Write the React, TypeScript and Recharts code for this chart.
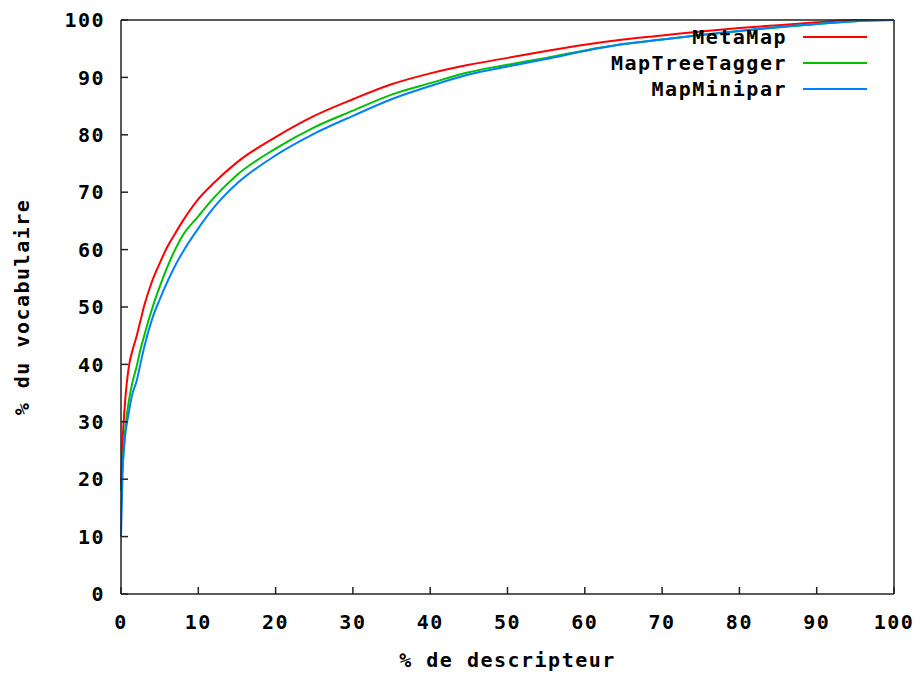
import React from 'react';
import { LineChart, Line, XAxis, YAxis, Legend, Label } from 'recharts';

// % de descripteur (x) shared by the three curves
const descripteurPct = [0, 0.2, 0.5, 1, 1.5, 2, 2.5, 3, 4, 5, 6, 7, 8, 10, 12, 15, 20, 25, 30, 35, 40, 45, 50, 55, 60, 65, 70, 75, 80, 85, 90, 95, 100];

// % du vocabulaire per tool
const metaMap = [19, 26.5, 33, 39.5, 42.5, 44.8, 47.5, 50.2, 54.4, 57.6, 60.5, 62.8, 65, 68.8, 71.6, 75.2, 79.6, 83.3, 86.2, 88.8, 90.7, 92.2, 93.4, 94.6, 95.7, 96.6, 97.3, 98.0, 98.6, 99.1, 99.6, 100, 100];
const mapTreeTagger = [18, 22, 28, 33.5, 37, 39.5, 42.5, 45, 49.6, 53.5, 57, 60, 62.5, 65.8, 69.0, 73.0, 77.6, 81.3, 84.2, 87.0, 89.0, 90.9, 92.2, 93.4, 94.7, 95.8, 96.6, 97.4, 98.1, 98.7, 99.3, 99.8, 100];
const mapMinipar = [10, 21, 27, 31.5, 35, 37, 40, 43, 47.8, 51.3, 54.4, 57.2, 59.6, 63.7, 67.3, 71.5, 76.4, 80.2, 83.3, 86.2, 88.5, 90.5, 91.9, 93.2, 94.6, 95.8, 96.6, 97.4, 98.1, 98.8, 99.3, 99.8, 100];

const seriesNames = ['MetaMap', 'MapTreeTagger', 'MapMinipar'];
const axisTicks = [0, 10, 20, 30, 40, 50, 60, 70, 80, 90, 100];

const data = descripteurPct.map((x, i) => ({
  x,
  metaMap: metaMap[i],
  mapTreeTagger: mapTreeTagger[i],
  mapMinipar: mapMinipar[i],
}));

const FONT = '"DejaVu Sans Mono", "Liberation Mono", monospace';
const FRAME = '#222';

const tickStyle = {
  fill: '#000',
  fontSize: 20,
  fontFamily: FONT,
  fontWeight: 'bold',
  letterSpacing: 1.5,
};

// gnuplot-like key: text right aligned, sample line on the right
const KeyContent = ({ payload }: any) => {
  const items = [...(payload || [])].sort(
    (a: any, b: any) => seriesNames.indexOf(a.value) - seriesNames.indexOf(b.value)
  );
  return (
    <div style={{ fontFamily: FONT, fontWeight: 'bold', fontSize: 20, letterSpacing: 1.5 }}>
      {items.map((entry: any) => (
        <div
          key={entry.value}
          style={{ display: 'flex', justifyContent: 'flex-end', alignItems: 'center', height: 26 }}
        >
          <span style={{ color: '#000', lineHeight: '26px' }}>{entry.value}</span>
          <svg width={64} height={4} style={{ marginLeft: 16 }}>
            <line x1={0} y1={2} x2={64} y2={2} stroke={entry.color} strokeWidth={2} />
          </svg>
        </div>
      ))}
    </div>
  );
};

const YTitle = ({ viewBox }: any) => {
  const cx = viewBox.x + 22;
  const cy = viewBox.y + viewBox.height / 2;
  return (
    <text
      x={cx}
      y={cy}
      transform={`rotate(-90 ${cx} ${cy})`}
      textAnchor="middle"
      dominantBaseline="central"
      fontFamily={FONT}
      fontWeight="bold"
      fontSize={20}
      letterSpacing={1.5}
      fill="#000"
    >
      % du vocabulaire
    </text>
  );
};

export default function App() {
  return (
    <div style={{ position: 'absolute', left: 0, top: 0, width: 922, height: 673, background: '#fff' }}>
      <LineChart width={922} height={673} data={data} margin={{ top: 0, right: 0, bottom: 0, left: 0 }}>
        <XAxis
          dataKey="x"
          type="number"
          domain={[0, 100]}
          ticks={axisTicks}
          interval={0}
          height={79}
          tickSize={-7}
          tickMargin={28}
          tick={tickStyle}
          axisLine={{ stroke: FRAME, strokeWidth: 1.5 }}
          tickLine={{ stroke: FRAME, strokeWidth: 1.5 }}
        >
          <Label
            value="% de descripteur"
            position="insideBottom"
            offset={6}
            style={{ fontFamily: FONT, fontWeight: 'bold', fontSize: 20, letterSpacing: 1.5, fill: '#000' }}
          />
        </XAxis>
        <XAxis
          xAxisId="top"
          orientation="top"
          type="number"
          domain={[0, 100]}
          allowDataOverflow
          ticks={axisTicks}
          interval={0}
          height={20}
          tickSize={-7}
          tick={false}
          axisLine={{ stroke: FRAME, strokeWidth: 1.5 }}
          tickLine={{ stroke: FRAME, strokeWidth: 1.5 }}
        />
        <YAxis
          type="number"
          domain={[0, 100]}
          ticks={axisTicks}
          interval={0}
          width={121}
          tickSize={-7}
          tickMargin={23}
          tick={tickStyle}
          axisLine={{ stroke: FRAME, strokeWidth: 1.5 }}
          tickLine={{ stroke: FRAME, strokeWidth: 1.5 }}
        >
          <Label content={<YTitle />} />
        </YAxis>
        <YAxis
          yAxisId="right"
          orientation="right"
          type="number"
          domain={[0, 100]}
          allowDataOverflow
          ticks={axisTicks}
          interval={0}
          width={28}
          tickSize={-7}
          tick={false}
          axisLine={{ stroke: FRAME, strokeWidth: 1.5 }}
          tickLine={{ stroke: FRAME, strokeWidth: 1.5 }}
        />
        <Legend
          layout="vertical"
          align="center"
          verticalAlign="middle"
          content={<KeyContent />}
          wrapperStyle={{ position: 'absolute', top: 24, left: 560, width: 307, right: 'auto', bottom: 'auto' }}
        />
        <Line type="monotone" dataKey="metaMap" name="MetaMap" stroke="#ff0000" strokeWidth={2} dot={false} isAnimationActive={false} />
        <Line type="monotone" dataKey="mapTreeTagger" name="MapTreeTagger" stroke="#00c000" strokeWidth={2} dot={false} isAnimationActive={false} />
        <Line type="monotone" dataKey="mapMinipar" name="MapMinipar" stroke="#0080ff" strokeWidth={2} dot={false} isAnimationActive={false} />
      </LineChart>
    </div>
  );
}
